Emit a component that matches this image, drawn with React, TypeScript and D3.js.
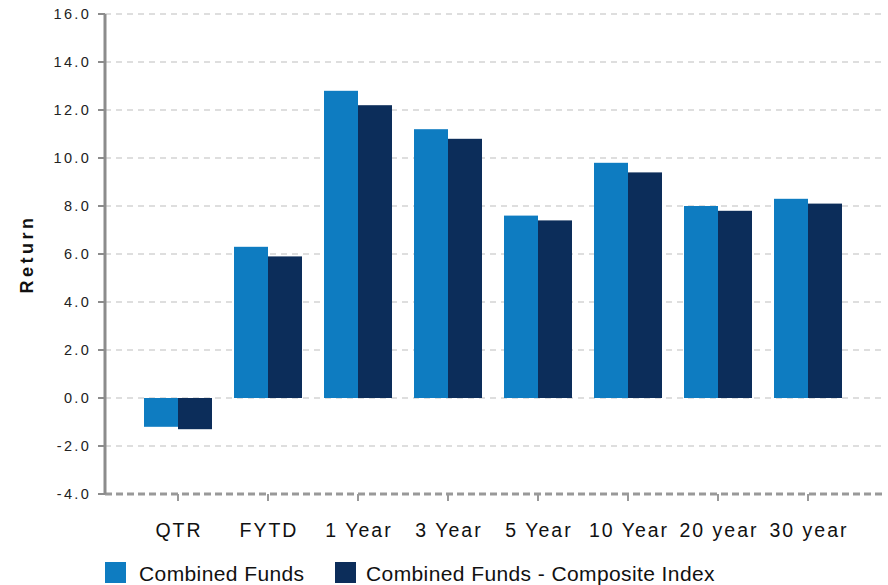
import * as React from 'react';
import * as d3 from 'd3';

const categories = ['QTR', 'FYTD', '1 Year', '3 Year', '5 Year', '10 Year', '20 year', '30 year'];
const seriesNames = ['Combined Funds', 'Combined Funds - Composite Index'];
const combinedFunds = [-1.2, 6.3, 12.8, 11.2, 7.6, 9.8, 8.0, 8.3];
const compositeIndex = [-1.3, 5.9, 12.2, 10.8, 7.4, 9.4, 7.8, 8.1];
const yTicks = [-4, -2, 0, 2, 4, 6, 8, 10, 12, 14, 16];
const colors = ['#0e7cc1', '#0c2d5a'];

const width = 888;
const height = 585;
const left = 105;
const right = 885;
const top = 14;
const bottom = 494;

export default function App() {
  const y = d3.scaleLinear().domain([-4, 16]).range([bottom, top]);
  const x = d3.scaleBand<string>().domain(categories).range([133, 853]);
  const inner = d3.scaleBand<number>().domain([0, 1]).range([11, 79]);
  const series = [combinedFunds, compositeIndex];
  const font = 'Liberation Sans, Arial, sans-serif';

  return (
    <svg width={width} height={height} style={{ position: 'absolute', left: 0, top: 0 }} fontFamily={font}>
      {yTicks.filter((t) => t !== -4).map((t) => (
        <line key={'g' + t} x1={left} x2={right} y1={y(t)} y2={y(t)} stroke="#d4d4d4" strokeWidth={1.5} strokeDasharray="6,5" />
      ))}
      {series.map((vals, s) =>
        vals.map((v, i) => (
          <rect
            key={s + '-' + i}
            x={(x(categories[i]) as number) + (inner(s) as number)}
            width={inner.bandwidth()}
            y={y(Math.max(0, v))}
            height={Math.abs(y(v) - y(0))}
            fill={colors[s]}
          />
        ))
      )}
      <line x1={left} x2={right} y1={bottom} y2={bottom} stroke="#999" strokeWidth={3} strokeDasharray="7,4" />
      {categories.map((c) => {
        const cx = (x(c) as number) + x.bandwidth() / 2;
        return (
          <g key={c}>
            <line x1={cx} x2={cx} y1={bottom} y2={bottom + 7} stroke="#999" strokeWidth={2} />
            <text x={cx + 1} y={537} textAnchor="middle" fontSize={19.5} letterSpacing={2} fill="#111">{c}</text>
          </g>
        );
      })}
      <line x1={left} x2={left} y1={top} y2={bottom} stroke="#8c8c8c" strokeWidth={3} />
      {yTicks.map((t) => (
        <g key={'t' + t}>
          <line x1={left - 7} x2={left} y1={y(t)} y2={y(t)} stroke="#8c8c8c" strokeWidth={2} />
          <text x={91} y={y(t) + 5} textAnchor="end" fontSize={14.5} letterSpacing={2.3} fill="#222">{t.toFixed(1)}</text>
        </g>
      ))}
      <text transform={`translate(33,${(top + bottom) / 2}) rotate(-90)`} textAnchor="middle" fontSize={18} fontWeight="bold" letterSpacing={3.5} fill="#111">Return</text>
      <rect x={105} y={562} width={21} height={21} fill={colors[0]} />
      <text x={139} y={581} fontSize={21} letterSpacing={0.4} fill="#111">{seriesNames[0]}</text>
      <rect x={335} y={562} width={21} height={21} fill={colors[1]} />
      <text x={366} y={581} fontSize={21} letterSpacing={0.4} fill="#111">{seriesNames[1]}</text>
    </svg>
  );
}
